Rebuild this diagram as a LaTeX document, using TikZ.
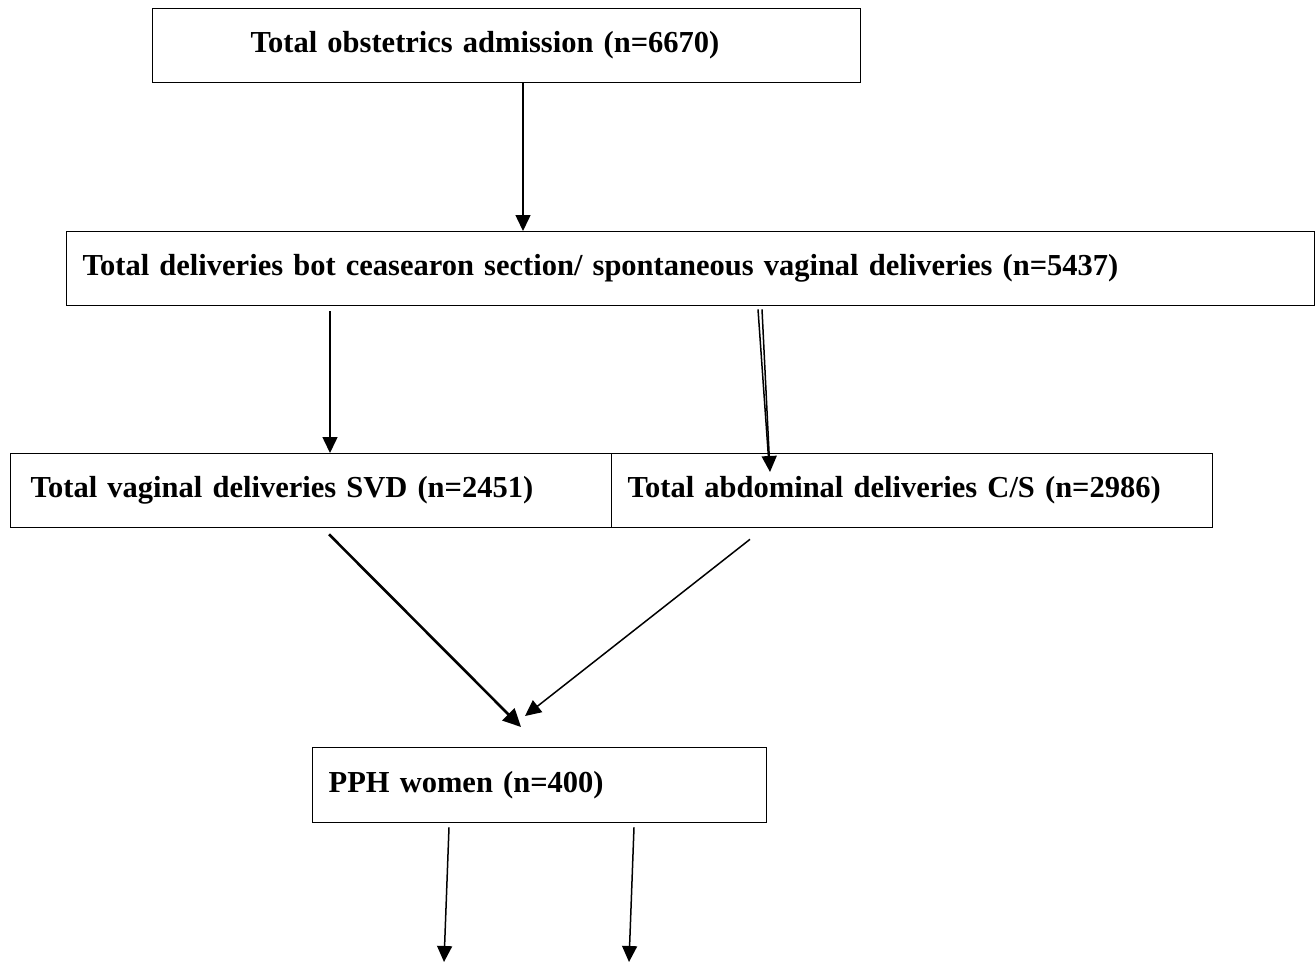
\documentclass[tikz,border=0pt]{standalone}
\usepackage{fontspec}
\setmainfont{Liberation Serif}
\usetikzlibrary{arrows.meta,calc}
\begin{document}
\begin{tikzpicture}[x=1pt,y=1pt,
  box/.style={draw,line width=1.3pt,anchor=north west,minimum height=74pt,
    inner ysep=0pt,align=left,font=\fontsize{30.5}{36}\selectfont\bfseries},
  conn/.style={line width=1.5pt,-{Triangle[length=16pt,width=15pt]}},
  thickconn/.style={line width=2.6pt,-{Triangle[length=18pt,width=17pt]}}]
\useasboundingbox (0,0) rectangle (1315,-962);
\fill[white] (0,0) rectangle (1315,-962);
\node[box,inner xsep=98pt,text width=512pt] (b1) at (152,-8) {Total obstetrics admission (n=6670)};
\node[box,inner xsep=16pt,text width=1216pt] (b2) at (66,-231) {Total deliveries bot ceasearon section/ spontaneous vaginal deliveries (n=5437)};
\node[box,inner xsep=20pt,text width=561pt] (b3l) at (10,-453) {Total vaginal deliveries SVD (n=2451)};
\node[box,inner xsep=16pt,text width=569pt] (b3r) at (611,-453) {Total abdominal deliveries C/S (n=2986)};
\node[box,inner xsep=16pt,text width=422pt,minimum height=75pt] (pph) at (312,-747) {PPH women (n=400)};
\coordinate (e1) at (444,-962);
\coordinate (e2) at (629,-962);
\draw[conn] ([xshift=371pt]b1.south west) -- ([xshift=457pt]b2.north west);
\draw[conn] ([shift={(264pt,-5pt)}]b2.south west) -- ([xshift=320pt]b3l.north west);
\draw[line width=1.5pt] ([shift={(692pt,-3pt)}]b2.south west) -- ([shift={(158pt,-12pt)}]b3r.north west);
\draw[conn] ([shift={(696pt,-3pt)}]b2.south west) -- ([shift={(159pt,-19pt)}]b3r.north west);
\draw[thickconn] ([shift={(319pt,-6pt)}]b3l.south west) -- ([shift={(209pt,20pt)}]pph.north west);
\draw[conn] ([shift={(139pt,-11pt)}]b3r.south west) -- ([shift={(213pt,31pt)}]pph.north west);
\draw[conn] ([shift={(137pt,-4pt)}]pph.south west) -- (e1);
\draw[conn] ([shift={(322pt,-4pt)}]pph.south west) -- (e2);
\end{tikzpicture}
\end{document}
